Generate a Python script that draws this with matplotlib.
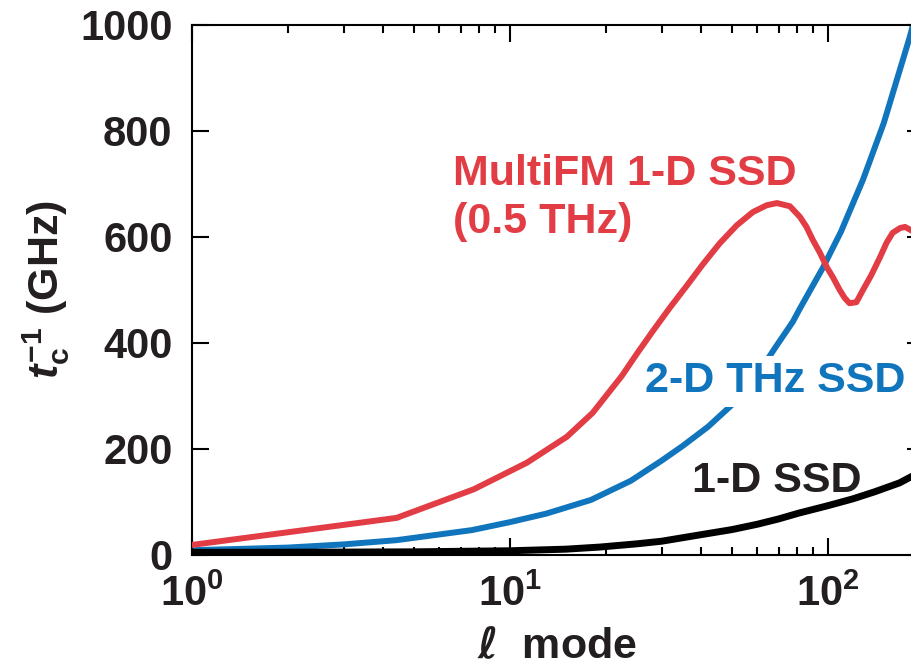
import matplotlib
matplotlib.use("Agg")
import matplotlib.pyplot as plt
from matplotlib.ticker import LogLocator, NullFormatter

# === DATA ===
ell_red = [1, 4.4, 7.7, 11.3, 15.1, 18.2, 22.5, 25.1, 28.2, 31.8, 36, 40.4,
           45.7, 51.7, 58.1, 64.3, 69.2, 76, 81.7, 85.7, 89.8, 94.5, 99.3,
           104, 109, 113, 117, 123, 129, 137, 146, 153, 160, 169, 175, 190,
           200]
multifm = [19, 70, 124, 174, 223, 268, 338, 380, 423, 466, 508, 548,
           588, 622, 647, 660, 664, 658, 638, 619, 594, 570, 543,
           523, 500, 485, 475, 477, 500, 528, 562, 589, 608, 617, 619, 607,
           592]

ell_blue = [1, 2, 3, 4.4, 7.6, 10, 13, 18, 24, 30, 35, 42, 50.3,
            60, 69, 77.6, 81.7, 96.5, 110, 129, 150, 181, 200]
thz_2d = [9, 14, 20, 28, 47, 62, 78, 104, 140, 178, 206, 242, 285,
          340, 395, 440, 465, 542, 610, 708, 815, 977, 1075]

ell_black = [1, 3, 5, 10, 15, 19.2, 25, 30, 39.6, 50, 60, 70, 81, 100, 120,
             140, 168, 182, 200]
ssd_1d = [5, 5.5, 6, 8, 11, 15, 21, 26, 38, 48, 58, 68, 79, 93, 106,
          119, 136, 147, 160]

yticks = [0, 200, 400, 600, 800, 1000]

# === STYLE ===
RED = "#E23D45"
BLUE = "#1075BC"
INK = "#231F20"
FS = 30      # tick labels
FS_T = 31    # curve / axis labels

plt.rcParams["font.family"] = ["Liberation Sans", "DejaVu Sans"]
plt.rcParams["font.weight"] = "bold"
plt.rcParams["mathtext.fontset"] = "custom"
plt.rcParams["mathtext.rm"] = "Liberation Sans:bold"
plt.rcParams["mathtext.bf"] = "Liberation Sans:bold"
plt.rcParams["mathtext.it"] = "Liberation Sans:bold:italic"
plt.rcParams["mathtext.sf"] = "DejaVu Sans:italic"

fig = plt.figure(figsize=(9.11, 6.66), dpi=100)
# axes deliberately runs past the right edge, like the cropped original
ax = fig.add_axes([192 / 911, 111 / 666, 731.5 / 911, 530 / 666])

ax.plot(ell_blue, thz_2d, color=BLUE, lw=4.3, zorder=2)
ax.plot(ell_black, ssd_1d, color="black", lw=5, zorder=3)
ax.plot(ell_red, multifm, color=RED, lw=4.3, zorder=4)

ax.set_xscale("log")
ax.set_xlim(1, 200)
ax.set_ylim(0, 1000)
ax.set_yticks(yticks)
ax.xaxis.set_minor_locator(LogLocator(base=10, subs=range(2, 10)))
ax.xaxis.set_minor_formatter(NullFormatter())

for s in ax.spines.values():
    s.set_linewidth(1.5)
ax.tick_params(which="both", direction="in", top=True, right=True,
               width=1.5, labelsize=FS, labelcolor=INK, pad=14)
ax.tick_params(which="major", length=12)
ax.tick_params(which="minor", length=6)
for lab in ax.get_xticklabels() + ax.get_yticklabels():
    lab.set_fontweight("bold")

# curve labels
ax.text(6.62, 698, "MultiFM 1-D SSD", color=RED, fontsize=FS_T,
        fontweight="bold", va="baseline", ha="left")
ax.text(6.62, 608, "(0.5 THz)", color=RED, fontsize=FS_T,
        fontweight="bold", va="baseline", ha="left")
ax.text(26.6, 307, "2-D THz SSD", color=BLUE, fontsize=FS_T, fontweight="bold",
        va="baseline", ha="left", zorder=3,
        bbox=dict(facecolor="white", edgecolor="none", pad=4))
ax.text(37.3, 119, "1-D SSD", color=INK, fontsize=FS_T, fontweight="bold",
        va="baseline", ha="left")

# axis labels
fig.text(46 / 911, 1 - 290 / 666, r"$t_{\mathbf{c}}^{\mathbf{-1}}$ (GHz)",
         rotation=90, ha="center", va="center", fontsize=FS_T,
         fontweight="bold", color=INK)
fig.text(557 / 911, 1 - 658 / 666, r"$\mathsf{\ell}$  mode", ha="center",
         va="baseline", fontsize=FS_T, fontweight="bold", color=INK)

fig.savefig("out.png", dpi=100)
